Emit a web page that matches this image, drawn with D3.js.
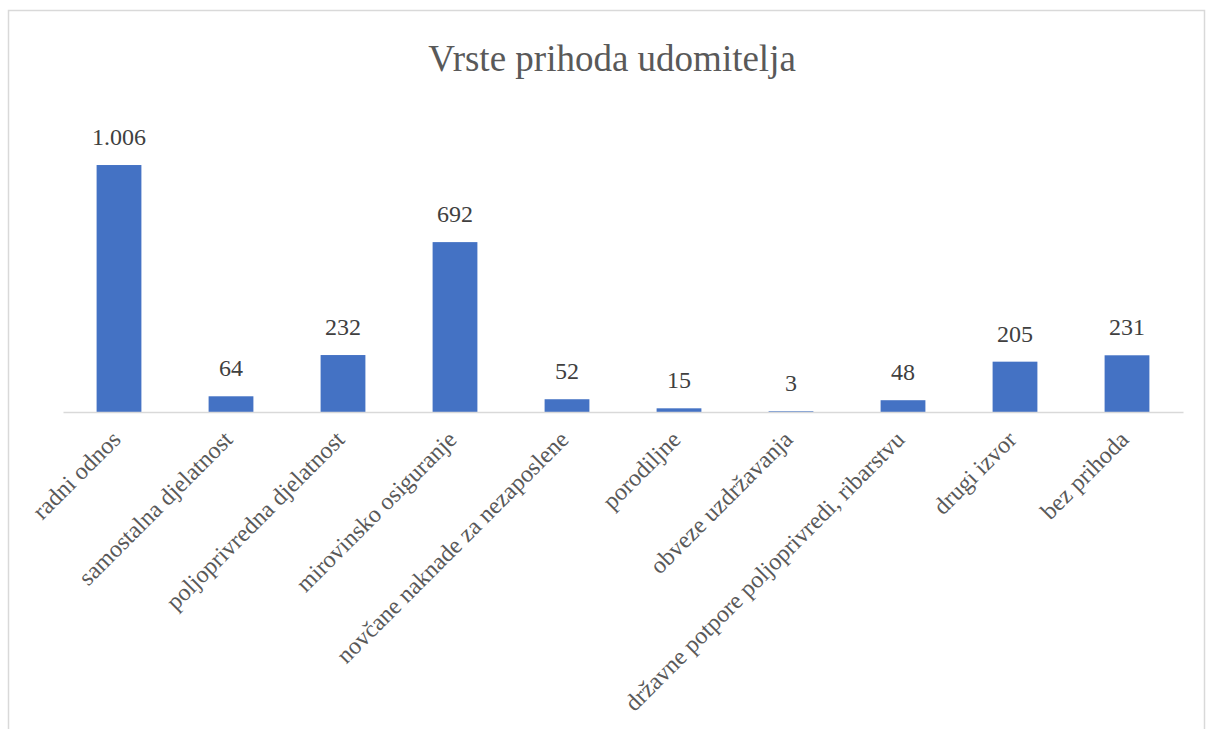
<!DOCTYPE html>
<html>
<head>
<meta charset="utf-8">
<script src="https://cdn.jsdelivr.net/npm/d3@7"></script>
<style>
  body { margin: 0; background: #fff; }
</style>
</head>
<body>
<svg id="chart" width="1206" height="729"></svg>
<script>
'use strict';

// Chart data
const title = 'Vrste prihoda udomitelja';
const categories = [
  'radni odnos',
  'samostalna djelatnost',
  'poljoprivredna djelatnost',
  'mirovinsko osiguranje',
  'novčane naknade za nezaposlene',
  'porodiljne',
  'obveze uzdržavanja',
  'državne potpore poljoprivredi, ribarstvu',
  'drugi izvor',
  'bez prihoda'
];
const values = [1006, 64, 232, 692, 52, 15, 3, 48, 205, 231];
const valueLabels = ['1.006', '64', '232', '692', '52', '15', '3', '48', '205', '231'];

const serif = '"Liberation Serif", "Times New Roman", serif';

function drawChart () {
  const svg = d3.select('#chart');

  // chart frame
  svg.append('rect')
    .attr('x', 8.5).attr('y', 10.5)
    .attr('width', 1196).attr('height', 740)
    .attr('fill', 'none')
    .attr('stroke', '#d9d9d9')
    .attr('stroke-width', 1.5);

  // title
  svg.append('text')
    .attr('x', 612).attr('y', 71)
    .attr('text-anchor', 'middle')
    .attr('font-family', serif)
    .attr('font-size', 37)
    .attr('fill', '#595959')
    .text(title);

  // scales
  const xScale = d3.scaleBand()
    .domain(categories)
    .range([63, 1183])
    .paddingInner(0.6)
    .paddingOuter(0.3);
  const yScale = d3.scaleLinear()
    .domain([0, 1200])
    .range([412, 117.4]);

  // bars
  svg.selectAll('rect.bar').data(values).enter().append('rect')
    .attr('class', 'bar')
    .attr('x', (d, i) => xScale(categories[i]))
    .attr('width', xScale.bandwidth())
    .attr('y', d => yScale(d))
    .attr('height', d => yScale(0) - yScale(d))
    .attr('fill', '#4472c4');

  // baseline axis
  const axis = svg.append('g')
    .attr('transform', `translate(0,${yScale(0)})`)
    .call(d3.axisBottom(xScale).tickSize(0).tickFormat(''));
  axis.select('.domain').attr('stroke', '#d9d9d9').attr('stroke-width', 1.5);

  // category labels, rotated
  svg.selectAll('text.cat').data(categories).enter().append('text')
    .attr('class', 'cat')
    .attr('text-anchor', 'end')
    .attr('font-family', serif)
    .attr('font-size', 24)
    .attr('fill', '#595959')
    .attr('transform', d => {
      const cx = xScale(d) + xScale.bandwidth() / 2 + 3;
      return `translate(${cx},${yScale(0) + 29}) rotate(-45)`;
    })
    .text(d => d);

  // value labels
  svg.selectAll('text.val').data(values).enter().append('text')
    .attr('class', 'val')
    .attr('text-anchor', 'middle')
    .attr('font-family', serif)
    .attr('font-size', 24)
    .attr('fill', '#404040')
    .attr('x', (d, i) => xScale(categories[i]) + xScale.bandwidth() / 2)
    .attr('y', d => yScale(d) - 20)
    .text((d, i) => valueLabels[i]);
}

drawChart();
</script>
</body>
</html>
